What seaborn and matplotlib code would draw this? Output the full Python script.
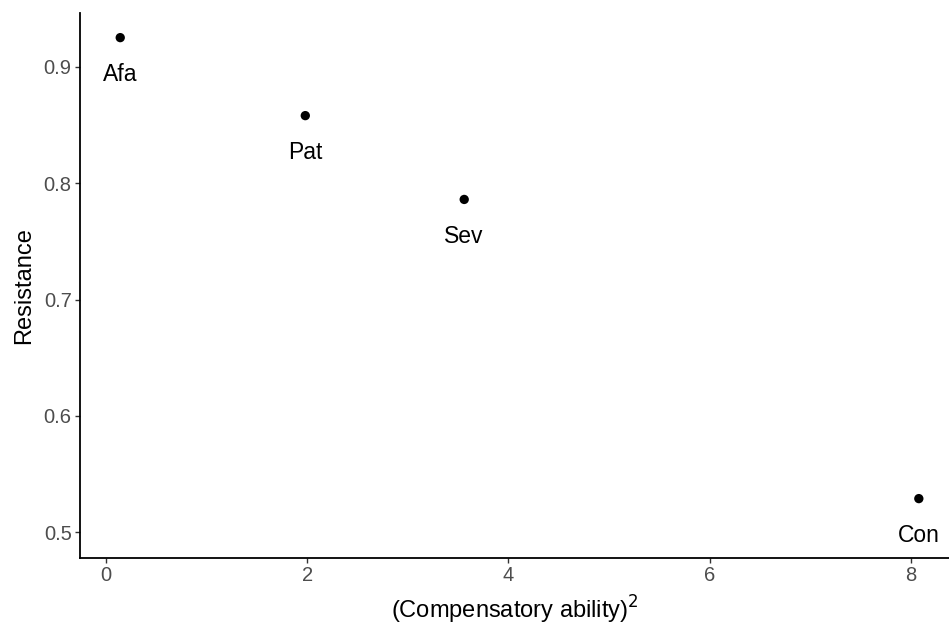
import matplotlib
matplotlib.use("Agg")
import matplotlib.pyplot as plt
import seaborn as sns
import pandas as pd

# ── Data ──────────────────────────────────────────────────────────────────────

labels = ["Afa", "Pat", "Sev", "Con"]
comp_sq = [0.14, 1.98, 3.56, 8.08]
resistance = [0.925, 0.858, 0.786, 0.529]

x_ticks = [0, 2, 4, 6, 8]
y_ticks = [0.5, 0.6, 0.7, 0.8, 0.9]

# ── Style ─────────────────────────────────────────────────────────────────────

sns.set_theme(style="ticks")
plt.rcParams["font.family"] = ["Liberation Sans", "DejaVu Sans"]

df = pd.DataFrame({"label": labels, "x": comp_sq, "y": resistance})

fig = plt.figure(figsize=(9.49, 6.28), dpi=100)
ax = fig.add_axes([0.0843, 0.1115, 0.9157, 0.8675])

sns.scatterplot(data=df, x="x", y="y", ax=ax, color="black", s=45,
                edgecolor="none", legend=False)

for _, r in df.iterrows():
    ax.annotate(r["label"], (r["x"], r["y"]), xytext=(0, -26.5),
                textcoords="offset points", ha="center", va="center",
                fontsize=16.5, color="black")

ax.set_xlim(-0.26, 8.38)
ax.set_ylim(0.478, 0.946)
ax.set_xticks(x_ticks)
ax.set_yticks(y_ticks)
ax.set_xticklabels([str(t) for t in x_ticks])
ax.set_yticklabels([f"{t:.1f}" for t in y_ticks])
ax.tick_params(axis="both", labelsize=14.5, labelcolor="#4d4d4d",
               color="#333333", length=3.5, width=1, pad=2.5)

ax.set_xlabel("(Compensatory ability)$^2$", fontsize=17, color="black", labelpad=6)
ax.set_ylabel("Resistance", fontsize=17, color="black", labelpad=6)

for side in ["top", "right"]:
    ax.spines[side].set_visible(False)
for side in ["left", "bottom"]:
    ax.spines[side].set_linewidth(1.3)
    ax.spines[side].set_color("black")

fig.savefig("out.png", dpi=100)
plt.close(fig)
